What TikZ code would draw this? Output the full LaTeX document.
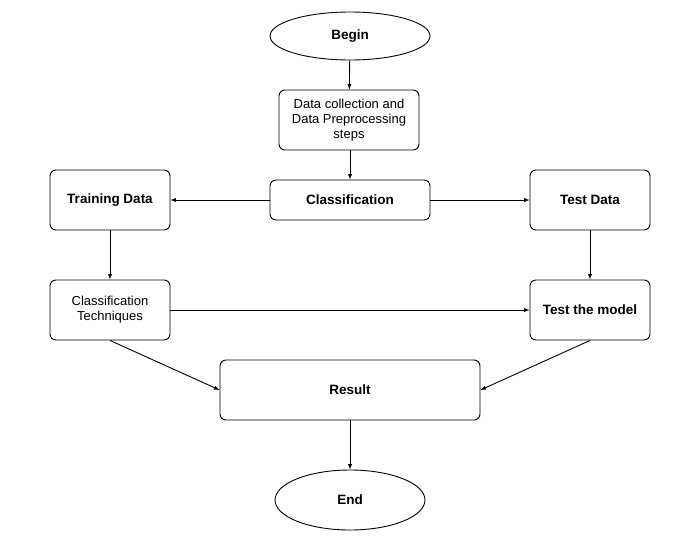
\documentclass[tikz,border=0pt]{standalone}
\usepackage{fontspec}
\setmainfont{Liberation Sans}
\usetikzlibrary{shapes}
\tikzstyle{bx}=[rectangle,rounded corners=6pt,draw=black,line width=.9pt,align=center,inner sep=1pt,font=\fontsize{13}{15}\selectfont]
\tikzstyle{bb}=[bx,font=\fontsize{13.5}{15}\selectfont\bfseries]
\tikzstyle{ov}=[ellipse,draw=black,line width=.9pt,inner sep=0pt,font=\fontsize{13.5}{15}\selectfont\bfseries]
\tikzstyle{ar}=[->,>=latex,line width=.9pt]

\begin{document}
\begin{tikzpicture}[x=1pt,y=-1pt]
\useasboundingbox[fill=white] (0,0) rectangle (693,544);
\node[ov,minimum width=160pt,minimum height=48pt] (begin) at (350,36) {Begin};
\node[bx,minimum width=140pt,minimum height=60pt] (prep) at (349,120) {Data collection and\\Data Preprocessing\\steps};
\node[bb,minimum width=160pt,minimum height=40pt] (cls) at (350,200) {Classification};
\node[bb,minimum width=120pt,minimum height=60pt] (train) at (110,200) {Training Data};
\node[bb,minimum width=120pt,minimum height=60pt] (test) at (590,200) {Test Data};
\node[bx,minimum width=120pt,minimum height=60pt] (tech) at (110,310) {Classification\\Techniques};
\node[bb,minimum width=120pt,minimum height=60pt] (model) at (590,310) {Test the model};
\node[bb,minimum width=260pt,minimum height=60pt] (res) at (350,390) {Result};
\node[ov,minimum width=150pt,minimum height=60pt] (end) at (350,500) {End};
\draw[ar] (begin) -- (prep);
\draw[ar] (prep.south -| cls.north) -- (cls);
\draw[ar] (cls) -- (train);
\draw[ar] (cls) -- (test);
\draw[ar] (train) -- (tech);
\draw[ar] (test) -- (model);
\draw[ar] (tech) -- (model);
\draw[ar] (tech.south) -- (res.west);
\draw[ar] (model.south) -- (res.east);
\draw[ar] (res) -- (end);
\end{tikzpicture}
\end{document}
